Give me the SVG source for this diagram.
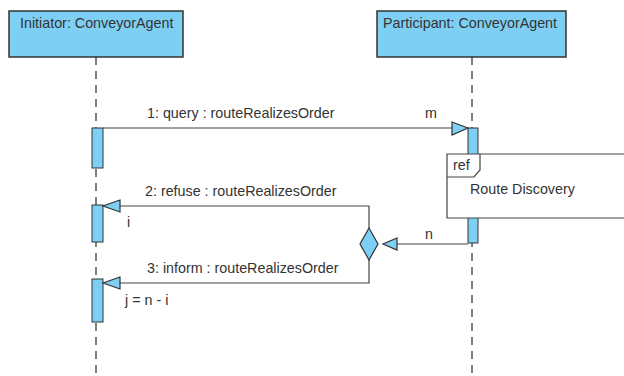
<svg xmlns="http://www.w3.org/2000/svg" width="624" height="376" viewBox="0 0 624 376">
<style>
text{font-family:"Liberation Sans",Arial,sans-serif;font-size:14.3px;fill:#333}
.box{fill:#7ecff4;stroke:#333;stroke-width:1.5}
.act{fill:#7ecff4;stroke:#333;stroke-width:1}
.life{stroke:#555;stroke-width:1.5;stroke-dasharray:8 6;fill:none}
.msg{stroke:#444;stroke-width:1.2;fill:none}
.head{fill:#7ecff4;stroke:#333;stroke-width:1.2}
</style>
<rect width="624" height="376" fill="#fff"/>
<g id="lifelines">
<line class="life" x1="96" y1="57" x2="96" y2="376"/>
<line class="life" x1="472" y1="57" x2="472" y2="376"/>
</g>
<g id="initiator">
<rect class="box" x="9" y="11" width="174" height="46"/>
<text x="20" y="28">Initiator: ConveyorAgent</text>
</g>
<g id="participant">
<rect class="box" x="377" y="11" width="189" height="46"/>
<text x="383" y="28">Participant: ConveyorAgent</text>
</g>
<g id="activations">
<rect class="act" x="92" y="128" width="11" height="40"/>
<rect class="act" x="468" y="128" width="10" height="115"/>
<rect class="act" x="92" y="205" width="11" height="37"/>
<rect class="act" x="92" y="279" width="11" height="43"/>
</g>
<g id="ref">
<path d="M447 154 H630 V218 H447 Z" fill="#fff" stroke="#444" stroke-width="1.2"/>
<path d="M447 177 H474 L480 170 V154" fill="none" stroke="#444" stroke-width="1.2"/>
<text x="453" y="170">ref</text>
<text x="470" y="194">Route Discovery</text>
</g>
<g id="connectors">
<line class="msg" x1="103" y1="128" x2="452" y2="128"/>
<path class="head" d="M452 122 L468 128 L452 135 Z"/>
<text x="147" y="118">1: query : routeRealizesOrder</text>
<text x="425" y="118">m</text>
<line class="msg" x1="397" y1="244" x2="468" y2="244"/>
<path class="head" d="M397 238 L383 244 L397 250 Z"/>
<text x="425" y="239">n</text>
<path class="head" d="M369 228 L378 244 L369 260 L360 244 Z"/>
<path class="msg" d="M369 228 V206 H120"/>
<path class="head" d="M120 200 L103 206 L120 212 Z"/>
<text x="145" y="196">2: refuse : routeRealizesOrder</text>
<text x="127" y="227">i</text>
<path class="msg" d="M369 260 V283 H120"/>
<path class="head" d="M120 277 L103 283 L120 289 Z"/>
<text x="147" y="273">3: inform : routeRealizesOrder</text>
<text x="125" y="305">j = n - i</text>
</g>
</svg>
